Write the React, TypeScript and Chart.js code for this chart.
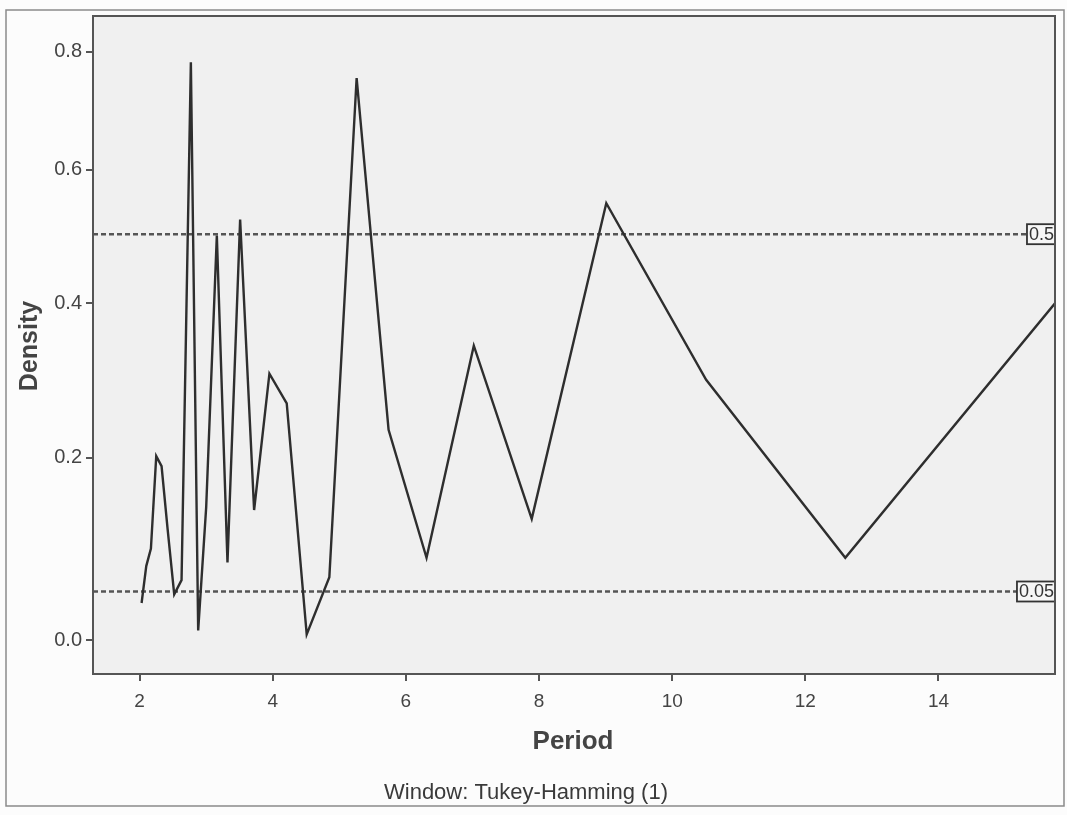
import React, { useEffect, useRef } from "react";
import { Chart, registerables } from "chart.js";

Chart.register(...registerables);

// Periods (x) and spectral density estimates (y)
const periods = [
  2.03, 2.1, 2.17, 2.25, 2.33, 2.42, 2.52, 2.63, 2.77, 2.88, 3.0, 3.16, 3.32, 3.51,
  3.72, 3.95, 4.21, 4.51, 4.85, 5.26, 5.74, 6.31, 7.02, 7.89, 9.01, 10.51, 12.6, 15.75,
];
const density = [
  0.038, 0.077, 0.096, 0.202, 0.19, 0.118, 0.047, 0.062, 0.781, 0.01, 0.142, 0.498, 0.081, 0.522,
  0.139, 0.305, 0.267, 0.006, 0.065, 0.753, 0.234, 0.086, 0.342, 0.129, 0.547, 0.297, 0.086, 0.4,
];
const xTicks = [2, 4, 6, 8, 10, 12, 14];
const yTicks = [0.0, 0.2, 0.4, 0.6, 0.8];
const refValues = [0.5, 0.05];
const refLabels = ["0.5", "0.05"];
const xRange = [1.3, 15.75];
const yRange = [-0.033, 0.865];
const xTitle = "Period";
const yTitle = "Density";
const caption = "Window: Tukey-Hamming (1)";

const FONT = "'Liberation Sans', Arial, Helvetica, sans-serif";
const tf = (d: number) => Math.log(1 + d);

const decorPlugin = {
  id: "decor",
  beforeDraw(chart: any) {
    const { ctx, chartArea: a, width, height } = chart;
    ctx.save();
    ctx.fillStyle = "#fcfcfc";
    ctx.fillRect(0, 0, width, height);
    ctx.strokeStyle = "#8a8a8a";
    ctx.lineWidth = 1.5;
    ctx.strokeRect(6, 10, 1058, 796);
    ctx.fillStyle = "#f0f0f0";
    ctx.fillRect(a.left, a.top, a.right - a.left, a.bottom - a.top);
    ctx.restore();
  },
  beforeDatasetsDraw(chart: any) {
    const { ctx, chartArea: a, scales } = chart;
    ctx.save();
    ctx.strokeStyle = "#555";
    ctx.lineWidth = 2.5;
    ctx.setLineDash([5, 3]);
    refValues.forEach((v) => {
      const y = scales.y.getPixelForValue(tf(v));
      ctx.beginPath();
      ctx.moveTo(a.left, y);
      ctx.lineTo(a.right, y);
      ctx.stroke();
    });
    ctx.restore();
  },
  afterDatasetsDraw(chart: any) {
    const { ctx, chartArea: a, scales } = chart;
    ctx.save();
    // reference line labels
    ctx.font = `18px ${FONT}`;
    ctx.textBaseline = "middle";
    ctx.textAlign = "right";
    refValues.forEach((v, i) => {
      const y = scales.y.getPixelForValue(tf(v));
      const w = ctx.measureText(refLabels[i]).width + 3;
      const h = 20;
      ctx.fillStyle = "#f6f6f6";
      ctx.fillRect(a.right - w, y - h / 2, w, h);
      ctx.strokeStyle = "#333";
      ctx.lineWidth = 1.8;
      ctx.strokeRect(a.right - w, y - h / 2, w, h);
      ctx.fillStyle = "#333";
      ctx.fillText(refLabels[i], a.right - 1, y + 1);
    });
    // frame
    ctx.strokeStyle = "#555";
    ctx.lineWidth = 2;
    ctx.strokeRect(a.left, a.top, a.right - a.left, a.bottom - a.top);
    // titles
    ctx.fillStyle = "#444";
    ctx.textAlign = "center";
    ctx.textBaseline = "middle";
    ctx.font = `bold 26px ${FONT}`;
    ctx.fillText(xTitle, 573, 742);
    ctx.font = `bold 25px ${FONT}`;
    ctx.save();
    ctx.translate(30, 346);
    ctx.rotate(-Math.PI / 2);
    ctx.fillText(yTitle, 0, 0);
    ctx.restore();
    ctx.font = `22px ${FONT}`;
    ctx.fillStyle = "#3a3a3a";
    ctx.fillText(caption, 526, 793);
    ctx.restore();
  },
};

export default function App() {
  const ref = useRef<HTMLCanvasElement | null>(null);
  useEffect(() => {
    if (!ref.current) return;
    const chart = new Chart(ref.current, {
      type: "line",
      data: {
        datasets: [
          {
            data: periods.map((p, i) => ({ x: p, y: tf(density[i]) })),
            borderColor: "#2e2e2e",
            borderWidth: 2.4,
            pointRadius: 0,
            fill: false,
            tension: 0,
          },
        ],
      },
      options: {
        responsive: false,
        animation: false,
        layout: { padding: { left: 0, top: 16, right: 12, bottom: 0 } },
        plugins: { legend: { display: false }, tooltip: { enabled: false } },
        scales: {
          x: {
            type: "linear",
            min: xRange[0],
            max: xRange[1],
            afterFit: (s: any) => {
              s.height = 141;
            },
            afterBuildTicks: (s: any) => {
              s.ticks = xTicks.map((v) => ({ value: v }));
            },
            border: { display: false },
            grid: { drawOnChartArea: false, drawTicks: true, tickLength: 7, color: "#555", lineWidth: 2 },
            ticks: {
              padding: 9,
              color: "#444",
              font: { family: FONT, size: 19 },
              maxRotation: 0,
              autoSkip: false,
              callback: (v: any) => String(v),
            },
          },
          y: {
            type: "linear",
            min: tf(yRange[0]),
            max: tf(yRange[1]),
            afterFit: (s: any) => {
              s.width = 93;
            },
            afterBuildTicks: (s: any) => {
              s.ticks = yTicks.map((v) => ({ value: tf(v) }));
            },
            border: { display: false },
            grid: { drawOnChartArea: false, drawTicks: true, tickLength: 7, color: "#555", lineWidth: 2 },
            ticks: {
              padding: 4,
              color: "#444",
              font: { family: FONT, size: 20 },
              autoSkip: false,
              callback: (v: any) => (Math.exp(Number(v)) - 1).toFixed(1),
            },
          },
        },
      },
      plugins: [decorPlugin],
    });
    return () => chart.destroy();
  }, []);
  return (
    <div style={{ position: "absolute", left: 0, top: 0, width: 1067, height: 815 }}>
      <canvas ref={ref} width={1067} height={815} style={{ display: "block" }} />
    </div>
  );
}
